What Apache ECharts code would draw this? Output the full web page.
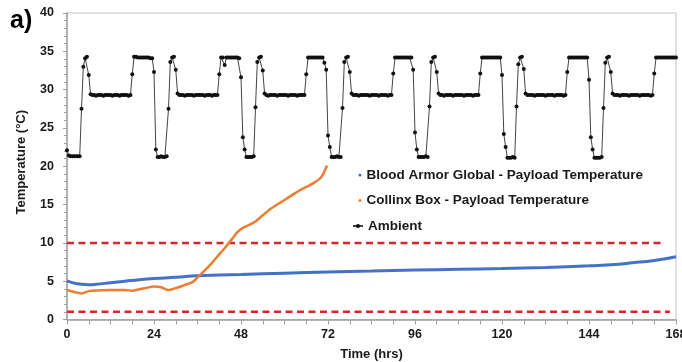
<!DOCTYPE html>
<html>
<head>
<meta charset="utf-8">
<script src="https://cdn.jsdelivr.net/npm/echarts@6/dist/echarts.min.js"></script>
<style>html,body{margin:0;padding:0;background:#fff}#c{width:682px;height:362px}</style>
</head>
<body>
<div id="c"></div>
<script>
// ---- data ----
const seriesNames = ['Blood Armor Global - Payload Temperature', 'Collinx Box - Payload Temperature', 'Ambient'];
const xTicks = [0, 24, 48, 72, 96, 120, 144, 168];
const yTicks = [0, 5, 10, 15, 20, 25, 30, 35, 40];

const bloodArmorTime = [0, 2, 4, 6, 8, 12, 16, 20, 24, 30, 36, 42, 48, 60, 72, 84, 96, 108, 120, 132, 144, 150, 156, 162, 168];
const bloodArmorTemp = [5.05, 4.75, 4.6, 4.55, 4.6, 4.8, 5.0, 5.2, 5.35, 5.5, 5.7, 5.8, 5.88, 6.05, 6.2, 6.32, 6.45, 6.55, 6.65, 6.8, 7.0, 7.15, 7.4, 7.7, 8.2];

const collinxTime = [0, 2, 4, 6, 8, 12, 16, 18, 20, 22, 24, 26, 28, 30, 32, 33, 34, 35, 36, 38, 40, 42, 44, 46, 47, 48, 50, 52, 54, 56, 58, 60, 62, 64, 66, 68, 70, 71, 71.7];
const collinxTemp = [3.85, 3.6, 3.4, 3.7, 3.8, 3.85, 3.85, 3.75, 3.95, 4.15, 4.3, 4.2, 3.85, 4.1, 4.4, 4.6, 4.75, 5.0, 5.5, 6.4, 7.4, 8.5, 9.6, 10.8, 11.4, 11.8, 12.3, 12.8, 13.6, 14.4, 15.0, 15.6, 16.2, 16.8, 17.3, 17.8, 18.5, 19.3, 20.1];

// ambient logged every half hour, t = 0 ... 168 h
const ambientStep = 0.5;
const ambientTemp = [
  22.1,21.4,21.3,21.3,21.3,21.3,21.3,21.3, 27.5,33.0,34.1,34.3,31.9,29.4,
  29.3,29.3,29.2,29.3,29.3,29.3,29.2,29.3,29.3,29.3,29.3,29.2,29.3,29.3,29.3,29.2,29.3,29.3,29.3,29.3,29.2,29.3,
  32.0, 34.3,34.3,34.2,34.2,34.2,34.2,34.2,34.2,34.2,34.1,34.1,
  32.3,22.2,21.2,21.2,21.3,21.2,21.2,21.3, 27.5,33.6,34.2,34.3,32.6,29.5,
  29.3,29.3,29.3,29.2,29.3,29.3,29.3,29.3,29.2,29.3,29.3,29.3,29.3,29.3,29.2,29.3,29.3,29.3,29.2,29.3,29.3,29.3,
  32.0, 34.2,34.2,33.2,34.2,34.2,34.2,34.2,34.2,34.2,34.2,34.1,
  31.6,23.8,22.2,21.2,21.2,21.2,21.2,21.3, 27.7,33.6,34.2,34.3,32.5,29.5,
  29.3,29.2,29.3,29.3,29.3,29.3,29.2,29.3,29.3,29.3,29.3,29.3,29.2,29.3,29.3,29.3,29.3,29.2,29.3,29.3,29.3,29.3,
  32.0, 34.2,34.2,34.2,34.2,34.2,34.2,34.2,34.2,34.2,33.5,32.6,
  24.0,22.5,21.2,21.2,21.2,21.3,21.2,21.2, 27.6,33.6,34.2,34.3,32.3,29.5,
  29.3,29.3,29.3,29.2,29.3,29.3,29.3,29.3,29.3,29.2,29.3,29.3,29.3,29.3,29.2,29.3,29.3,29.3,29.3,29.2,29.3,29.3,
  32.1, 34.2,34.2,34.2,34.2,34.2,34.2,34.2,34.2,34.2,34.2,32.6,
  24.4,22.2,21.2,21.2,21.2,21.2,21.3,21.2, 27.8,33.6,34.2,34.3,32.3,29.5,
  29.3,29.3,29.2,29.3,29.3,29.3,29.3,29.2,29.3,29.3,29.3,29.3,29.3,29.2,29.3,29.3,29.3,29.3,29.2,29.3,29.3,29.3,
  32.1, 34.2,34.2,34.2,34.2,34.2,34.2,34.2,34.2,34.2,34.2,34.2,
  31.9,24.2,22.5,21.1,21.1,21.1,21.2,21.1, 27.8,33.3,34.2,34.3,32.7,29.5,
  29.3,29.3,29.3,29.3,29.2,29.3,29.3,29.3,29.3,29.3,29.2,29.3,29.3,29.3,29.3,29.2,29.3,29.3,29.3,29.3,29.2,29.3,
  32.3, 34.2,34.2,34.2,34.2,34.2,34.2,34.2,34.2,34.2,34.2,34.2,
  31.3,23.8,22.2,21.1,21.1,21.1,21.1,21.2, 27.6,33.5,34.2,34.3,32.3,29.5,
  29.3,29.3,29.3,29.2,29.3,29.3,29.3,29.3,29.2,29.3,29.3,29.3,29.3,29.3,29.2,29.3,29.3,29.3,29.3,29.3,29.2,29.3,
  32.1, 34.2,34.2,34.2,34.2,34.2,34.2,34.2,34.2,34.2,34.2,34.2,
  34.2
];

const upperLimitLine = [[0, 10], [164, 10]];
const lowerLimitLine = [[0, 1], [166.3, 1]];

// ---- chart ----
const zip = (xs, ys) => xs.map((x, i) => [x, ys[i]]);
const ambientData = ambientTemp.map((v, i) => [i * ambientStep, v]);

const FONT = "'Liberation Sans', Arial, sans-serif";
const chart = echarts.init(document.getElementById('c'), null, { renderer: 'canvas' });

const legendBase = (name, top, left, w, h, icon) => {
  const l = {
    data: [name], orient: 'vertical', left: left, top: top, padding: 0,
    itemWidth: w, itemHeight: h, selectedMode: false,
    textStyle: { fontFamily: FONT, fontWeight: 'bold', fontSize: 13.5, color: '#1a1a1a', lineHeight: 16 }
  };
  if (icon) l.icon = icon;
  return l;
};

chart.setOption({
  animation: false,
  backgroundColor: '#fff',
  graphic: [{
    type: 'text', left: 10, top: 9,
    style: { text: 'a)', font: "bold 25px 'Liberation Sans', Arial, sans-serif", fill: '#000' }
  }],
  legend: [
    legendBase(seriesNames[0], 167, 358.5, 3, 3, 'circle'),
    legendBase(seriesNames[1], 192.5, 358.5, 3, 3, 'circle'),
    legendBase(seriesNames[2], 218, 352, 10, 5)
  ],
  grid: {
    left: 67, right: 6, top: 13, bottom: 42.5,
    show: true, borderColor: '#c4c4c4', borderWidth: 1,
    outerBoundsMode: 'none'
  },
  xAxis: {
    type: 'value', min: xTicks[0], max: xTicks[xTicks.length - 1], interval: 24,
    name: 'Time (hrs)', nameLocation: 'middle', nameGap: 28,
    nameTextStyle: { fontFamily: FONT, fontWeight: 'bold', fontSize: 13, color: '#1a1a1a' },
    axisLine: { onZero: false, lineStyle: { color: '#a0a0a0', width: 1.5 } },
    axisTick: { show: true, length: 5, lineStyle: { color: '#a0a0a0' } },
    minorTick: { show: true, splitNumber: 4, length: 5, lineStyle: { color: '#a0a0a0' } },
    splitLine: { show: false },
    axisLabel: { margin: 9, fontFamily: FONT, fontWeight: 'bold', fontSize: 12.5, color: '#1a1a1a' }
  },
  yAxis: {
    type: 'value', min: yTicks[0], max: yTicks[yTicks.length - 1], interval: 5,
    name: 'Temperature (°C)', nameLocation: 'middle', nameGap: 39, nameRotate: 90,
    nameTextStyle: { fontFamily: FONT, fontWeight: 'bold', fontSize: 13, color: '#1a1a1a', padding: [0, 0, 0, 8] },
    axisLine: { show: true, lineStyle: { color: '#a0a0a0', width: 1.5 } },
    axisTick: { show: true, length: 4, lineStyle: { color: '#a0a0a0' } },
    minorTick: { show: true, splitNumber: 5, length: 3, lineStyle: { color: '#a0a0a0' } },
    splitLine: { show: false },
    axisLabel: { margin: 13, fontFamily: FONT, fontWeight: 'bold', fontSize: 12.5, color: '#1a1a1a' }
  },
  series: [
    {
      name: 'upper', type: 'line', data: upperLimitLine, symbol: 'none', silent: true,
      lineStyle: { color: '#d9262b', width: 2.5, type: [7, 4.5] }, z: 1
    },
    {
      name: 'lower', type: 'line', data: lowerLimitLine, symbol: 'none', silent: true,
      lineStyle: { color: '#d9262b', width: 2.5, type: [7, 4.5] }, z: 1
    },
    {
      name: seriesNames[0], type: 'line', data: zip(bloodArmorTime, bloodArmorTemp),
      smooth: true, symbol: 'none', itemStyle: { color: '#4472c4' },
      lineStyle: { color: '#4472c4', width: 3 }, z: 3
    },
    {
      name: seriesNames[1], type: 'line', data: zip(collinxTime, collinxTemp),
      smooth: 0.3, symbol: 'none', itemStyle: { color: '#ed7d31' },
      lineStyle: { color: '#ed7d31', width: 2.5 }, z: 4
    },
    {
      name: seriesNames[2], type: 'line', data: ambientData,
      symbol: 'circle', symbolSize: 4, showAllSymbol: true,
      itemStyle: { color: '#111' },
      lineStyle: { color: '#444', width: 1 }, z: 5
    }
  ]
});
</script>
</body>
</html>
